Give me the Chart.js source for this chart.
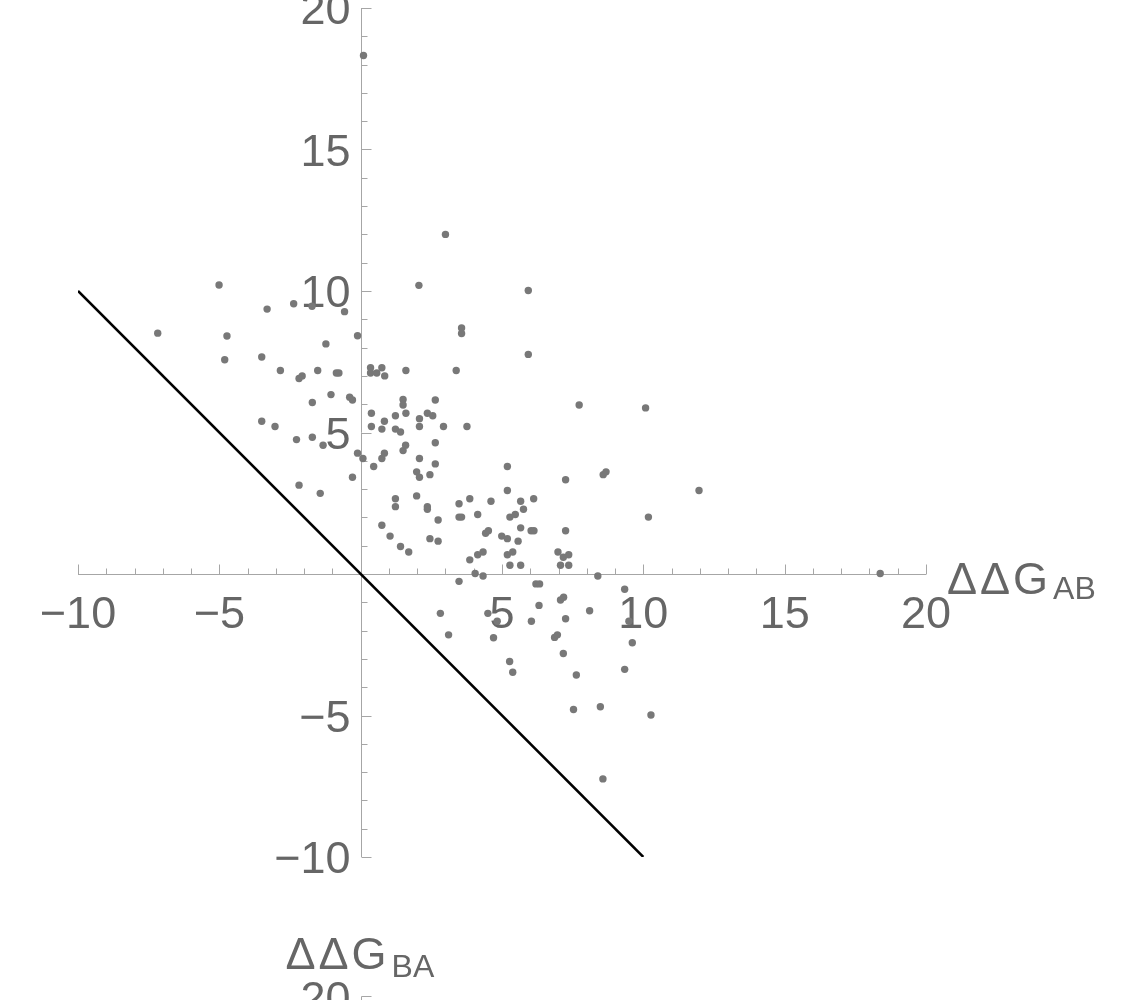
<!DOCTYPE html>
<html>
<head>
<meta charset="utf-8">
<title>ΔΔG scatter</title>
<script src="https://cdn.jsdelivr.net/npm/chart.js@4.4.1/dist/chart.umd.min.js"></script>
<style>
    html, body { margin: 0; padding: 0; background: #fff; }
    #wrap { width: 1121px; height: 1000px; }
</style>
</head>
<body>
<div id="wrap"><canvas id="chart" width="1121" height="1000"></canvas></div>
<script>
// ΔΔG_AB (x) and ΔΔG_BA (y)
const ddgAB = [
    -7.18, -5.01, -4.73, -4.81, -3.50, -3.31, -3.50, -3.03, -2.84, -2.37,
    -2.18, -2.07, -2.27, -2.18, -1.72, -1.52, -1.71, -1.71, -1.43, -1.33,
    -1.23, -1.05, -0.86, -0.77, -0.57, -0.39, -0.29, -0.29, -0.11, -0.11,
    0.10, 0.08, 0.35, 0.35, 0.57, 0.75, 0.85, 0.38, 0.38, 0.46,
    0.75, 0.84, 0.75, 0.84, 0.75, 1.04, 1.23, 1.23, 1.41, 1.23,
    1.23, 1.41, 1.50, 1.50, 1.60, 1.50, 1.59, 1.60, 1.70, 1.98,
    2.08, 1.98, 2.06, 2.08, 2.08, 2.08, 2.36, 2.55, 2.36, 2.36,
    2.45, 2.45, 2.64, 2.64, 2.64, 2.74, 2.74, 2.82, 2.93, 3.00,
    3.11, 3.38, 3.48, 3.48, 3.57, 3.48, 3.57, 3.57, 3.76, 3.86,
    3.86, 4.05, 4.14, 4.14, 4.33, 4.33, 4.42, 4.52, 4.50, 4.61,
    4.70, 4.83, 4.99, 5.19, 5.19, 5.19, 5.19, 5.38, 5.28, 5.47,
    5.28, 5.27, 5.38, 5.57, 5.66, 5.66, 5.66, 5.76, 5.93, 5.93,
    6.03, 6.13, 6.12, 6.04, 6.20, 6.33, 6.31, 6.86, 6.96, 6.98,
    7.17, 7.36, 7.07, 7.36, 7.07, 7.18, 7.17, 7.25, 7.25, 7.25,
    7.53, 7.63, 7.73, 8.10, 8.39, 8.48, 8.57, 8.58, 8.68, 9.34,
    9.34, 9.49, 9.61, 10.08, 10.18, 10.27, 11.97, 18.38
];
const ddgBA = [
    8.51, 10.21, 8.41, 7.57, 7.67, 9.36, 5.40, 5.21, 7.19, 9.55,
    6.91, 7.00, 4.75, 3.14, 9.46, 7.19, 6.06, 4.83, 2.85, 4.55,
    8.13, 6.34, 7.10, 7.10, 9.27, 6.25, 6.15, 3.42, 8.42, 4.27,
    18.32, 4.08, 7.29, 7.10, 7.10, 7.29, 7.00, 5.68, 5.21, 3.80,
    5.12, 5.40, 4.08, 4.27, 1.72, 1.34, 5.59, 5.12, 5.02, 2.66,
    2.38, 0.97, 6.17, 5.97, 5.68, 4.36, 4.55, 7.19, 0.78, 3.61,
    3.42, 2.76, 10.20, 5.49, 5.21, 4.08, 5.68, 5.59, 2.38, 2.29,
    3.51, 1.25, 6.15, 4.64, 3.89, 1.91, 1.16, -1.39, 5.21, 12.00,
    -2.15, 7.19, 2.48, 2.01, 2.01, -0.26, 8.69, 8.50, 5.21, 2.66,
    0.50, 0.02, 2.10, 0.68, 0.78, -0.07, 1.44, 1.53, -1.39, 2.57,
    -2.25, -1.67, 1.34, 1.25, 3.80, 2.95, 0.68, 0.78, 2.01, 2.10,
    0.31, -3.09, -3.47, 1.16, 2.57, 1.63, 0.31, 2.29, 10.02, 7.76,
    1.53, 1.53, 2.66, -1.67, -0.35, -0.35, -1.11, -2.24, -2.15, 0.78,
    0.59, 0.68, 0.31, 0.31, -0.92, -0.82, -2.81, 3.33, 1.53, -1.58,
    -4.79, -3.57, 5.97, -1.30, -0.07, -4.69, -7.24, 3.51, 3.61, -0.54,
    -3.37, -1.67, -2.43, 5.87, 2.01, -4.98, 2.95, 0.02
];

// the reference line ΔΔG_BA = −ΔΔG_AB
const diagonalX = [-10, 10];
const diagonalY = [10, -10];

const axisMin = -10;
const axisMax = 20;
const xTicks = [-10, -5, 5, 10, 15, 20];
const xTickLabels = ['−10', '−5', '5', '10', '15', '20'];
const yTicks = [-10, -5, 5, 10, 15, 20];
const yTickLabels = ['−10', '−5', '5', '10', '15', '20'];

const AXIS_COLOR = '#a6a6a6';
const TEXT_COLOR = '#666666';
const FONT = '"Liberation Sans", Arial, Helvetica, sans-serif';

const points = ddgAB.map((x, i) => ({ x: x, y: ddgBA[i] }));
const diagonal = diagonalX.map((x, i) => ({ x: x, y: diagonalY[i] }));

// Mathematica style axes crossing at the origin
const crossAxes = {
    id: 'crossAxes',
    beforeDatasetsDraw(chart) {
        const ctx = chart.ctx;
        const xs = chart.scales.x;
        const ys = chart.scales.y;
        const x0 = Math.round(xs.getPixelForValue(0)) + 0.5;
        const y0 = Math.round(ys.getPixelForValue(0)) + 0.5;
        const yBottom = Math.round(ys.getPixelForValue(axisMin)) + 0.5;

        ctx.save();
        ctx.strokeStyle = AXIS_COLOR;
        ctx.lineWidth = 1;

        // horizontal axis
        ctx.beginPath();
        ctx.moveTo(xs.getPixelForValue(axisMin), y0);
        ctx.lineTo(xs.getPixelForValue(axisMax), y0);
        // vertical axis
        ctx.moveTo(x0, ys.getPixelForValue(axisMin));
        ctx.lineTo(x0, ys.getPixelForValue(axisMax));

        for (let v = axisMin; v <= axisMax; v++) {
            const len = v % 5 === 0 ? 10 : 6;
            const px = Math.round(xs.getPixelForValue(v)) + 0.5;
            ctx.moveTo(px, y0);
            ctx.lineTo(px, y0 - len);
            const py = Math.round(ys.getPixelForValue(v)) + 0.5;
            ctx.moveTo(x0, py);
            ctx.lineTo(x0 + len, py);
        }

        // stray start of a second vertical axis at the bottom
        const yStray = yBottom + 139;
        ctx.moveTo(x0, yStray);
        ctx.lineTo(x0 + 10, yStray);
        ctx.moveTo(x0, yStray);
        ctx.lineTo(x0, chart.height);
        ctx.stroke();

        ctx.fillStyle = TEXT_COLOR;
        ctx.font = '45px ' + FONT;
        ctx.textBaseline = 'alphabetic';

        ctx.textAlign = 'center';
        xTicks.forEach((v, i) => {
            ctx.fillText(xTickLabels[i], xs.getPixelForValue(v), y0 + 53);
        });

        ctx.textAlign = 'right';
        yTicks.forEach((v, i) => {
            ctx.fillText(yTickLabels[i], x0 - 11, ys.getPixelForValue(v) + 16);
        });
        ctx.fillText(yTickLabels[yTickLabels.length - 1], x0 - 11, yStray + 16);

        // axis titles
        ctx.textAlign = 'left';
        const drawTitle = (main, sub, x, y, subDrop) => {
            ctx.font = '45px ' + FONT;
            ctx.letterSpacing = '3px';
            ctx.fillText(main, x, y);
            const w = ctx.measureText(main).width;
            ctx.letterSpacing = '0px';
            ctx.font = '32px ' + FONT;
            ctx.fillText(sub, x + w + 2, y + subDrop);
        };
        drawTitle('ΔΔG', 'AB', xs.getPixelForValue(axisMax) + 21, y0 + 19, 5);
        drawTitle('ΔΔG', 'BA', x0 - 76, yBottom + 111, 8);

        ctx.restore();
    }
};

new Chart(document.getElementById('chart'), {
    type: 'scatter',
    data: {
        datasets: [
            {
                type: 'line',
                data: diagonal,
                borderColor: '#000000',
                borderWidth: 2.5,
                pointRadius: 0,
                fill: false
            },
            {
                data: points,
                backgroundColor: '#787878',
                borderWidth: 0,
                pointRadius: 3.7
            }
        ]
    },
    options: {
        responsive: false,
        animation: false,
        devicePixelRatio: 1,
        layout: {
            padding: { left: 78, right: 195, top: 8, bottom: 143 }
        },
        plugins: {
            legend: { display: false },
            tooltip: { enabled: false }
        },
        scales: {
            x: { type: 'linear', min: axisMin, max: axisMax, display: false },
            y: { type: 'linear', min: axisMin, max: axisMax, display: false }
        }
    },
    plugins: [crossAxes]
});
</script>
</body>
</html>
